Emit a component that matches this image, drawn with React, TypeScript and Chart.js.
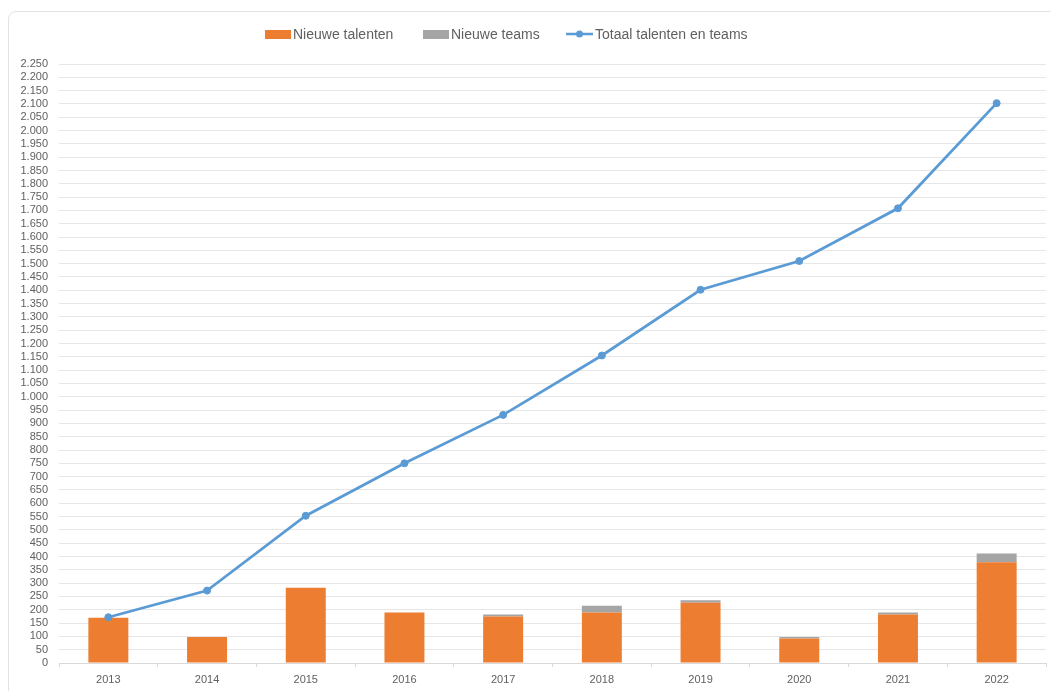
import React, { useEffect, useRef } from "react";
import { Chart, registerables } from "chart.js";

Chart.register(...registerables);

const years = ["2013", "2014", "2015", "2016", "2017", "2018", "2019", "2020", "2021", "2022"];
const nieuweTalenten = [170, 98, 283, 190, 175, 190, 226, 92, 182, 378];
const nieuweTeams = [0, 0, 0, 0, 7, 25, 10, 6, 8, 33];
const totaal = [172, 272, 553, 750, 932, 1155, 1402, 1510, 1708, 2103];
const legendLabels = ["Nieuwe talenten", "Nieuwe teams", "Totaal talenten en teams"];

const ORANGE = "#ED7D31";
const GRAY = "#A5A5A5";
const BLUE = "#5B9BD5";
const TEXT = "#606060";

function fmt(v: number): string {
  return String(Math.round(v)).replace(/\B(?=(\d{3})+(?!\d))/g, ".");
}

const legendPlugin = {
  id: "customLegend",
  afterDraw(chart: any) {
    const ctx = chart.ctx as CanvasRenderingContext2D;
    const y = 34;
    const starts = [265, 423, 566];
    ctx.save();
    ctx.font = "14px 'Liberation Sans', Arial, sans-serif";
    ctx.textBaseline = "middle";
    ctx.fillStyle = ORANGE;
    ctx.fillRect(starts[0], y - 4, 26, 9);
    ctx.fillStyle = TEXT;
    ctx.fillText(legendLabels[0], starts[0] + 28, y + 1);
    ctx.fillStyle = GRAY;
    ctx.fillRect(starts[1], y - 4, 26, 9);
    ctx.fillStyle = TEXT;
    ctx.fillText(legendLabels[1], starts[1] + 28, y + 1);
    ctx.strokeStyle = BLUE;
    ctx.lineWidth = 2.5;
    ctx.beginPath();
    ctx.moveTo(starts[2], y);
    ctx.lineTo(starts[2] + 27, y);
    ctx.stroke();
    ctx.fillStyle = BLUE;
    ctx.beginPath();
    ctx.arc(starts[2] + 13.5, y, 3.5, 0, Math.PI * 2);
    ctx.fill();
    ctx.fillStyle = TEXT;
    ctx.fillText(legendLabels[2], starts[2] + 29, y + 1);
    ctx.restore();
  },
};

export default function App() {
  const ref = useRef<HTMLCanvasElement | null>(null);
  useEffect(() => {
    if (!ref.current) return;
    const chart = new Chart(ref.current, {
      type: "bar",
      data: {
        labels: years,
        datasets: [
          {
            type: "line",
            label: legendLabels[2],
            data: totaal,
            borderColor: BLUE,
            backgroundColor: BLUE,
            borderWidth: 2.75,
            pointRadius: 3.5,
            pointBorderWidth: 1,
            pointBackgroundColor: BLUE,
            pointBorderColor: BLUE,
            tension: 0,
            stack: "total",
            order: 0,
          } as any,
          {
            type: "bar",
            label: legendLabels[0],
            data: nieuweTalenten,
            backgroundColor: ORANGE,
            stack: "bars",
            order: 1,
            barPercentage: 0.405,
            categoryPercentage: 1,
          },
          {
            type: "bar",
            label: legendLabels[1],
            data: nieuweTeams,
            backgroundColor: GRAY,
            stack: "bars",
            order: 1,
            barPercentage: 0.405,
            categoryPercentage: 1,
          },
        ],
      },
      options: {
        responsive: false,
        animation: false,
        layout: { padding: { top: 64, left: 0, right: 3, bottom: 0 } },
        plugins: {
          legend: { display: false },
          tooltip: { enabled: false },
        },
        scales: {
          x: {
            stacked: true,
            grid: {
              display: true,
              drawOnChartArea: false,
              drawTicks: true,
              tickLength: 4,
              color: "#d9d9d9",
              offset: true,
            },
            border: { display: true, color: "#d9d9d9" },
            ticks: {
              color: TEXT,
              padding: 6,
              font: { family: "'Liberation Sans', Arial, sans-serif", size: 11 },
            },
            afterFit(scale: any) {
              scale.height = 28;
            },
          },
          y: {
            stacked: true,
            min: 0,
            max: 2250,
            grid: {
              color: "#e6e6e6",
              lineWidth: 1,
              drawTicks: false,
            },
            border: { display: false },
            ticks: {
              stepSize: 50,
              autoSkip: false,
              color: TEXT,
              padding: 11,
              font: { family: "'Liberation Sans', Arial, sans-serif", size: 11 },
              callback: (v: any) => fmt(Number(v)),
            },
            afterFit(scale: any) {
              scale.width = 59;
            },
          },
        },
      },
      plugins: [legendPlugin],
    });
    return () => chart.destroy();
  }, []);

  return (
    <div
      style={{
        position: "fixed",
        left: 0,
        top: 0,
        width: 1051,
        height: 691,
        overflow: "hidden",
        background: "#ffffff",
      }}
    >
      <div
        style={{
          position: "absolute",
          left: 8,
          top: 11,
          width: 1200,
          height: 800,
          border: "1.5px solid #e3e3e3",
          borderRadius: 8,
          boxSizing: "border-box",
        }}
      />
      <canvas
        ref={ref}
        width={1051}
        height={691}
        style={{ position: "absolute", left: 0, top: 0, width: 1051, height: 691 }}
      />
    </div>
  );
}
